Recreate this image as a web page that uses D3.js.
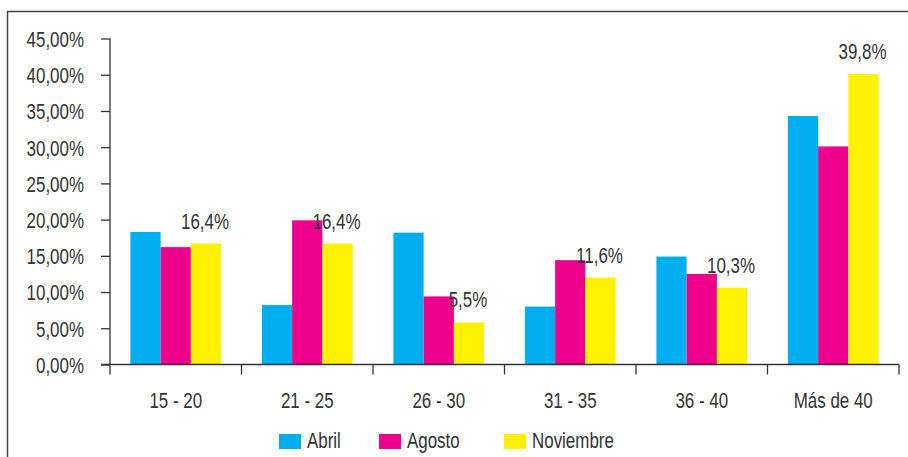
<!DOCTYPE html>
<html>
<head>
<meta charset="utf-8">
<script src="https://cdn.jsdelivr.net/npm/d3@7"></script>
<style>
  body { margin: 0; background: #fff; }
  text { font-family: "Liberation Sans", Arial, sans-serif; fill: #333; font-size: 22px; }
</style>
</head>
<body>
<div id="graph"></div>
<script>
var width = 908,
    height = 457,
    squeeze = 0.77   // the original face is a condensed one

// data
var categories = ['15 - 20', '21 - 25', '26 - 30', '31 - 35', '36 - 40', 'Más de 40']
var series = ['Abril', 'Agosto', 'Noviembre']
var abril = [18.3, 8.2, 18.2, 8.0, 14.9, 34.3]
var agosto = [16.2, 19.9, 9.4, 14.4, 12.5, 30.1]
var noviembre = [16.7, 16.7, 5.8, 12.0, 10.6, 40.1]
var labels = ['16,4%', '16,4%', '5,5%', '11,6%', '10,3%', '39,8%']
var yTicks = [0, 5, 10, 15, 20, 25, 30, 35, 40, 45]
var colors = ['#00aeef', '#ec008c', '#fff200']

var values = [abril, agosto, noviembre]

// squeeze text horizontally around its own x
function narrow(sel) {
  sel.each(function() {
    var t = d3.select(this)
    var x = +t.attr('x') || 0
    t.attr('x', x / squeeze).attr('transform', 'scale(' + squeeze + ',1)')
  })
}

var svg = d3.select('#graph')
  .append('svg')
  .attr('width', width)
  .attr('height', height)

// frame (top and left edges only)
svg.append('path')
  .attr('d', 'M7.5,' + height + 'V11.5H' + width)
  .attr('fill', 'none')
  .attr('stroke', '#444')
  .attr('stroke-width', 1.5)

var x0 = d3.scaleBand()
  .domain(categories)
  .range([110, 899])
  .paddingInner(0.31)
  .paddingOuter(0.155)

var x1 = d3.scaleBand()
  .domain(series)
  .range([0, x0.bandwidth()])

var y = d3.scaleLinear()
  .domain([0, 45])
  .range([364.5, 38.5])

// bars
var groups = svg.selectAll('g.grp')
  .data(categories)
  .enter().append('g')
  .attr('class', 'grp')
  .attr('transform', function(d) { return 'translate(' + x0(d) + ',0)' })

groups.selectAll('rect')
  .data(function(d, i) { return series.map(function(s, j) { return {s: s, v: values[j][i], c: colors[j]} }) })
  .enter().append('rect')
  .attr('x', function(d) { return x1(d.s) })
  .attr('width', x1.bandwidth())
  .attr('y', function(d) { return y(d.v) })
  .attr('height', function(d) { return y(0) - y(d.v) })
  .attr('fill', function(d) { return d.c })

// value labels over Noviembre bars
svg.selectAll('text.lbl')
  .data(categories)
  .enter().append('text')
  .attr('class', 'lbl')
  .attr('x', function(d) { return x0(d) + x1('Noviembre') + x1.bandwidth() / 2 - 1 })
  .attr('y', function(d, i) { return y(noviembre[i]) - 15 })
  .attr('text-anchor', 'middle')
  .text(function(d, i) { return labels[i] })
  .call(narrow)

// y axis
var yAxis = svg.append('g')
  .attr('transform', 'translate(110,0)')
  .call(d3.axisLeft(y).tickValues(yTicks).tickSize(9).tickPadding(17)
    .tickFormat(function(d) { return d3.format('.2f')(d).replace('.', ',') + '%' }))
yAxis.attr('font-size', null).attr('font-family', null)
yAxis.selectAll('path, line').attr('stroke', '#333').attr('stroke-width', 1.3)
yAxis.selectAll('text').attr('dy', '0.36em').call(narrow)
yAxis.select('.domain').attr('d', 'M0,' + y(45) + 'V' + y(0))

// x axis
var xAxis = svg.append('g')
  .attr('transform', 'translate(0,' + y(0) + ')')
xAxis.append('line')
  .attr('x1', 101).attr('x2', 899)
  .attr('stroke', '#333').attr('stroke-width', 1.3)
var bounds = [110].concat(categories.map(function(d) { return x0(d) + x0.bandwidth() + x0.step() * 0.155 }))
xAxis.selectAll('line.tk')
  .data(bounds)
  .enter().append('line')
  .attr('class', 'tk')
  .attr('x1', function(d) { return d }).attr('x2', function(d) { return d })
  .attr('y1', 0).attr('y2', 10)
  .attr('stroke', '#333').attr('stroke-width', 1.3)
xAxis.selectAll('text')
  .data(categories)
  .enter().append('text')
  .attr('x', function(d) { return x0(d) + x0.bandwidth() / 2 })
  .attr('y', 44)
  .attr('text-anchor', 'middle')
  .text(function(d) { return d })
  .call(narrow)

// legend
var legendX = [279, 379, 504]
var legend = svg.selectAll('g.leg')
  .data(series)
  .enter().append('g')
  .attr('class', 'leg')
  .attr('transform', function(d, i) { return 'translate(' + legendX[i] + ',434)' })
legend.append('rect')
  .attr('width', 22).attr('height', 15)
  .attr('fill', function(d, i) { return colors[i] })
legend.append('text')
  .attr('x', 28).attr('y', 14)
  .text(function(d) { return d })
  .call(narrow)
</script>
</body>
</html>
